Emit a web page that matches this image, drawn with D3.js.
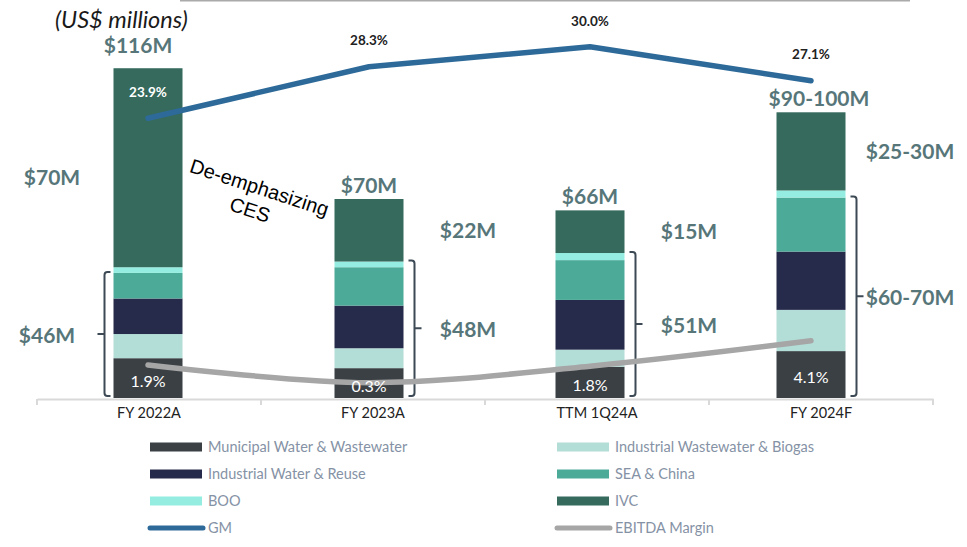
<!DOCTYPE html>
<html>
<head>
<meta charset="utf-8">
<script src="https://cdn.jsdelivr.net/npm/d3@7"></script>
<style>
  body { margin: 0; background: #fff; }
  text { font-family: Lato, "Open Sans", sans-serif; }
</style>
</head>
<body>
<div id="chart"></div>
<script>
// Chart data (US$ millions, margins in %)
var categories = ["FY 2022A", "FY 2023A", "TTM 1Q24A", "FY 2024F"];
var municipal = [14, 10.5, 11, 16.5];
var industrialWW = [8.5, 7, 6, 14.5];
var industrialWater = [12.5, 15, 17.5, 20.5];
var seaChina = [9, 13.5, 14, 19];
var boo = [2, 2, 2.5, 2.5];
var ivc = [70, 22, 15, 27.5];
var gm = [23.9, 28.3, 30.0, 27.1];
var ebitda = [1.9, 0.3, 1.8, 4.1];
var totalLabels = ["$116M", "$70M", "$66M", "$90-100M"];
var ivcLabels = ["$70M", "$22M", "$15M", "$25-30M"];
var coreLabels = ["$46M", "$48M", "$51M", "$60-70M"];
var bracketSegs = [4, 5, 5, 4];

var seriesKeys = ["municipal", "industrialWW", "industrialWater", "seaChina", "boo", "ivc"];
var seriesNames = ["Municipal Water & Wastewater", "Industrial Wastewater & Biogas",
  "Industrial Water & Reuse", "SEA & China", "BOO", "IVC"];
var colors = {
  municipal: "#3b4044",
  industrialWW: "#b3ded8",
  industrialWater: "#262a4b",
  seaChina: "#4baa98",
  boo: "#94ede0",
  ivc: "#356a5c"
};
var gmColor = "#2e6a99";
var ebitdaColor = "#a6a6a6";
var labelColor = "#577679";

var svgWidth = 967;
var svgHeight = 547;
var baseY = 398;

var svg = d3.select("#chart")
  .append("svg")
  .attr("width", svgWidth)
  .attr("height", svgHeight);

// build table for the stack
var table = categories.map(function(c, i) {
  return {
    cat: c,
    municipal: municipal[i],
    industrialWW: industrialWW[i],
    industrialWater: industrialWater[i],
    seaChina: seaChina[i],
    boo: boo[i],
    ivc: ivc[i]
  };
});
var stacked = d3.stack().keys(seriesKeys)(table);

// scales
var xBand = d3.scaleBand().domain(categories).range([37, 933]);
var xBar = d3.scalePoint().domain(categories).range([148, 811]);
var barW = 69;
var yBar = d3.scaleLinear().domain([0, 140]).range([baseY, 0]);
var yGM = d3.scaleLinear().domain([0, 34]).range([baseY, 0]);
var yEB = d3.scaleLinear().domain([0, 35]).range([386, 0]);

// top rule
svg.append("line")
  .attr("x1", 180).attr("x2", 910)
  .attr("y1", 0.5).attr("y2", 0.5)
  .attr("stroke", "#aaaaaa").attr("stroke-width", 2);

// x axis
var xAxis = d3.axisBottom(xBand).tickSize(0).tickPadding(9);
var axisG = svg.append("g")
  .attr("transform", "translate(0," + (baseY + 1) + ")")
  .call(xAxis);
axisG.select(".domain").attr("stroke", "#d9d9d9").attr("stroke-width", 2);
axisG.selectAll(".tick text")
  .style("font-size", "14.5px")
  .style("font-family", "Lato, sans-serif")
  .attr("fill", "#222");
var bounds = categories.map(function(c) { return xBand(c); }).concat([xBand.range()[1]]);
axisG.selectAll(".sep").data(bounds).enter()
  .append("line")
  .attr("x1", function(d) { return d; })
  .attr("x2", function(d) { return d; })
  .attr("y1", 0).attr("y2", 6)
  .attr("stroke", "#d9d9d9").attr("stroke-width", 2);

// stacked bars
svg.append("g").selectAll("g")
  .data(stacked).enter()
  .append("g")
  .attr("fill", function(d) { return colors[d.key]; })
  .selectAll("rect")
  .data(function(d) { return d; }).enter()
  .append("rect")
  .attr("x", function(d) { return xBar(d.data.cat) - barW / 2; })
  .attr("y", function(d) { return yBar(d[1]); })
  .attr("width", barW)
  .attr("height", function(d) { return yBar(d[0]) - yBar(d[1]); });

// brackets
categories.forEach(function(c, i) {
  var top = yBar(stacked[bracketSegs[i] - 1][i][1]) - 1;
  var bot = baseY - 2;
  var mid = (top + bot) / 2;
  var left = i === 0;
  var vx = left ? xBar(c) - barW / 2 - 9 : xBar(c) + barW / 2 + 11;
  var dir = left ? 1 : -1; // direction toward the bar
  var r = 3;
  var p = "M" + (vx + dir * 6) + "," + top +
    " L" + (vx + dir * r) + "," + top +
    " Q" + vx + "," + top + " " + vx + "," + (top + r) +
    " L" + vx + "," + (bot - r) +
    " Q" + vx + "," + bot + " " + (vx + dir * r) + "," + bot +
    " L" + (vx + dir * 6) + "," + bot +
    " M" + vx + "," + mid + " L" + (vx - dir * 7) + "," + mid;
  svg.append("path")
    .attr("d", p)
    .attr("fill", "none")
    .attr("stroke", "#3d4a55")
    .attr("stroke-width", 2);
});

// lines
var gmLine = d3.line()
  .x(function(d, i) { return xBar(categories[i]); })
  .y(function(d) { return yGM(d); });
var ebLine = d3.line()
  .curve(d3.curveCatmullRom.alpha(0.5))
  .x(function(d, i) { return xBar(categories[i]); })
  .y(function(d) { return yEB(d); });

svg.append("path")
  .datum(gm)
  .attr("d", gmLine)
  .attr("fill", "none")
  .attr("stroke", gmColor)
  .attr("stroke-width", 5.5)
  .attr("stroke-linecap", "round")
  .attr("stroke-linejoin", "round");

svg.append("path")
  .datum(ebitda)
  .attr("d", ebLine)
  .attr("fill", "none")
  .attr("stroke", ebitdaColor)
  .attr("stroke-width", 5.5)
  .attr("stroke-linecap", "round");

// GM labels
svg.append("g").selectAll("text")
  .data(gm).enter()
  .append("text")
  .attr("x", function(d, i) { return xBar(categories[i]); })
  .attr("y", function(d) { return yGM(d) - 26; })
  .attr("dy", "0.35em")
  .attr("text-anchor", "middle")
  .style("font-size", "13.5px")
  .style("font-weight", "bold")
  .attr("fill", function(d, i) { return i === 0 ? "#fff" : "#222"; })
  .text(function(d) { return d.toFixed(1) + "%"; });

// EBITDA labels inside the municipal segment
svg.append("g").selectAll("text")
  .data(ebitda).enter()
  .append("text")
  .attr("x", function(d, i) { return xBar(categories[i]); })
  .attr("y", function(d, i) { return (yBar(0) + yBar(municipal[i])) / 2 + 3; })
  .attr("dy", "0.35em")
  .attr("text-anchor", "middle")
  .style("font-size", "16px")
  .attr("fill", "#fff")
  .text(function(d) { return d.toFixed(1) + "%"; });

// total labels above bars
svg.append("g").selectAll("text")
  .data(totalLabels).enter()
  .append("text")
  .attr("x", function(d, i) { return xBar(categories[i]) + (i === 0 ? -10 : i === 3 ? 8 : 0); })
  .attr("y", function(d, i) {
    var total = stacked[stacked.length - 1][i][1];
    return yBar(total) - (i === 0 ? 15 : 6);
  })
  .attr("text-anchor", "middle")
  .style("font-size", "21px")
  .style("font-weight", "bold")
  .attr("fill", labelColor)
  .text(function(d) { return d; });

// IVC labels beside bars
svg.append("g").selectAll("text")
  .data(ivcLabels).enter()
  .append("text")
  .attr("x", function(d, i) { return xBar(categories[i]) + (i === 0 ? -96 : 99); })
  .attr("y", function(d, i) {
    var s = stacked[5][i];
    return (yBar(s[0]) + yBar(s[1])) / 2 + (i === 0 ? 10 : 0);
  })
  .attr("dy", "0.35em")
  .attr("text-anchor", "middle")
  .style("font-size", "21px")
  .style("font-weight", "bold")
  .attr("fill", labelColor)
  .text(function(d) { return d; });

// core (bracket) labels
svg.append("g").selectAll("text")
  .data(coreLabels).enter()
  .append("text")
  .attr("x", function(d, i) { return xBar(categories[i]) + (i === 0 ? -101 : 99); })
  .attr("y", function(d, i) {
    var top = yBar(stacked[bracketSegs[i] - 1][i][1]);
    return (top + baseY) / 2;
  })
  .attr("dy", "0.35em")
  .attr("text-anchor", "middle")
  .style("font-size", "21px")
  .style("font-weight", "bold")
  .attr("fill", labelColor)
  .text(function(d) { return d; });

// unit note
svg.append("text")
  .attr("x", 55).attr("y", 28)
  .style("font-size", "23.5px")
  .style("font-style", "italic")
  .attr("fill", "#1a1a1a")
  .text("(US$ millions)");

// rotated note
var note = svg.append("g")
  .attr("transform", "translate(256,198) rotate(18)");
note.append("text")
  .attr("x", 0).attr("y", -4)
  .attr("text-anchor", "middle")
  .style("font-family", "'Liberation Sans', Arial, sans-serif")
  .style("font-size", "20px")
  .attr("fill", "#000")
  .text("De-emphasizing");
note.append("text")
  .attr("x", -2).attr("y", 20)
  .attr("text-anchor", "middle")
  .style("font-family", "'Liberation Sans', Arial, sans-serif")
  .style("font-size", "20px")
  .attr("fill", "#000")
  .text("CES");

// legend
var legendItems = [];
seriesKeys.forEach(function(k, i) {
  legendItems.push({ name: seriesNames[i], color: colors[k], type: "rect" });
});
legendItems.push({ name: "GM", color: gmColor, type: "line" });
legendItems.push({ name: "EBITDA Margin", color: ebitdaColor, type: "line" });

var legend = svg.append("g").selectAll("g")
  .data(legendItems).enter()
  .append("g")
  .attr("transform", function(d, i) {
    var col = i % 2, row = Math.floor(i / 2);
    return "translate(" + (col === 0 ? 150 : 557) + "," + (447 + row * 27) + ")";
  });

legend.filter(function(d) { return d.type === "rect"; })
  .append("rect")
  .attr("x", 0).attr("y", -4.5)
  .attr("width", 52).attr("height", 9)
  .attr("fill", function(d) { return d.color; });

legend.filter(function(d) { return d.type === "line"; })
  .append("line")
  .attr("x1", 0).attr("x2", 53)
  .attr("y1", 0).attr("y2", 0)
  .attr("stroke", function(d) { return d.color; })
  .attr("stroke-width", 5)
  .attr("stroke-linecap", "round");

legend.append("text")
  .attr("x", 58).attr("y", 0)
  .attr("dy", "0.35em")
  .style("font-size", "14.5px")
  .attr("fill", "#8592a5")
  .text(function(d) { return d.name; });
</script>
</body>
</html>
